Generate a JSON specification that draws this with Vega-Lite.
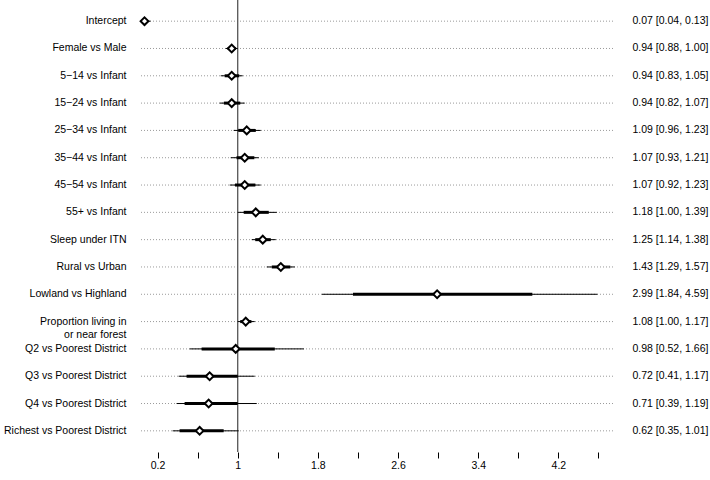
{
  "$schema": "https://vega.github.io/schema/vega-lite/v6.json",
  "autosize": {"type": "none"},
  "padding": {"left": 140, "top": 0, "right": 97, "bottom": 28},
  "width": 473,
  "height": 452,
  "config": {
    "view": {"stroke": null},
    "font": "Liberation Sans",
    "axis": {"labelFont": "Liberation Sans", "labelFontSize": 10.5, "labelColor": "#000", "grid": false, "domain": false, "title": null}
  },
  "data": {"values": [
    {"term": "Intercept", "est": 0.07, "lo": 0.04, "hi": 0.13, "lo80": 0.048, "hi80": 0.103, "ci": "0.07 [0.04, 0.13]"},
    {"term": "Female vs Male", "est": 0.94, "lo": 0.88, "hi": 1.00, "lo80": 0.90, "hi80": 0.98, "ci": "0.94 [0.88, 1.00]"},
    {"term": "5−14 vs Infant", "est": 0.94, "lo": 0.83, "hi": 1.05, "lo80": 0.87, "hi80": 1.015, "ci": "0.94 [0.83, 1.05]"},
    {"term": "15−24 vs Infant", "est": 0.94, "lo": 0.82, "hi": 1.07, "lo80": 0.862, "hi80": 1.025, "ci": "0.94 [0.82, 1.07]"},
    {"term": "25−34 vs Infant", "est": 1.09, "lo": 0.96, "hi": 1.23, "lo80": 1.005, "hi80": 1.18, "ci": "1.09 [0.96, 1.23]"},
    {"term": "35−44 vs Infant", "est": 1.07, "lo": 0.93, "hi": 1.21, "lo80": 0.988, "hi80": 1.166, "ci": "1.07 [0.93, 1.21]"},
    {"term": "45−54 vs Infant", "est": 1.07, "lo": 0.92, "hi": 1.23, "lo80": 0.973, "hi80": 1.176, "ci": "1.07 [0.92, 1.23]"},
    {"term": "55+ vs Infant", "est": 1.18, "lo": 1.00, "hi": 1.39, "lo80": 1.06, "hi80": 1.31, "ci": "1.18 [1.00, 1.39]"},
    {"term": "Sleep under ITN", "est": 1.25, "lo": 1.14, "hi": 1.38, "lo80": 1.175, "hi80": 1.33, "ci": "1.25 [1.14, 1.38]"},
    {"term": "Rural vs Urban", "est": 1.43, "lo": 1.29, "hi": 1.57, "lo80": 1.34, "hi80": 1.525, "ci": "1.43 [1.29, 1.57]"},
    {"term": "Lowland vs Highland", "est": 2.99, "lo": 1.84, "hi": 4.59, "lo80": 2.15, "hi80": 3.94, "ci": "2.99 [1.84, 4.59]"},
    {"term": "Proportion living in|or near forest", "est": 1.08, "lo": 1.00, "hi": 1.17, "lo80": 1.025, "hi80": 1.137, "ci": "1.08 [1.00, 1.17]"},
    {"term": "Q2 vs Poorest District", "est": 0.98, "lo": 0.52, "hi": 1.66, "lo80": 0.64, "hi80": 1.37, "ci": "0.98 [0.52, 1.66]"},
    {"term": "Q3 vs Poorest District", "est": 0.72, "lo": 0.41, "hi": 1.17, "lo80": 0.49, "hi80": 1.0, "ci": "0.72 [0.41, 1.17]"},
    {"term": "Q4 vs Poorest District", "est": 0.71, "lo": 0.39, "hi": 1.19, "lo80": 0.47, "hi80": 1.0, "ci": "0.71 [0.39, 1.19]"},
    {"term": "Richest vs Poorest District", "est": 0.62, "lo": 0.35, "hi": 1.01, "lo80": 0.42, "hi80": 0.86, "ci": "0.62 [0.35, 1.01]"}
  ]},
  "layer": [
    {
      "mark": {"type": "rule", "color": "#9a9a9a", "strokeDash": [1, 2], "strokeWidth": 1},
      "encoding": {
        "y": {"field": "ci", "type": "nominal", "sort": null, "scale": {"padding": 0.55, "round": false},
          "axis": {"orient": "right", "ticks": false, "labelPadding": 19}}
      }
    },
    {
      "layer": [
        {
          "data": {"values": [{}]},
          "mark": {"type": "rule", "color": "#555555", "strokeWidth": 1.3},
          "encoding": {
            "x": {"datum": 1, "type": "quantitative"}
          }
        },
        {
          "mark": {"type": "rule", "color": "#000", "strokeWidth": 1},
          "encoding": {
            "x": {
              "field": "lo", "type": "quantitative",
              "scale": {"domain": [0.025, 4.745], "nice": false, "zero": false},
              "axis": {
                "values": [0.2, 0.6, 1, 1.4, 1.8, 2.2, 2.6, 3.0, 3.4, 3.8, 4.2, 4.6],
                "tickSize": 6, "tickColor": "#000", "tickWidth": 1,
                "labelPadding": 2, "labelOverlap": false, "labelFlush": false,
                "labelExpr": "(round(datum.value*10) - 2) % 8 == 0 ? format(datum.value, '~g') : ''"
              }
            },
            "x2": {"field": "hi"},
            "y": {"field": "term", "type": "nominal", "sort": null, "scale": {"padding": 0.55, "round": false},
              "axis": {
                "orient": "left", "ticks": false, "labelPadding": 14, "labelLineHeight": 13,
                "labelExpr": "split(datum.label, '|')",
                "encode": {"labels": {"update": {"dy": {"signal": "indexof(datum.value, '|') >= 0 ? -9.5 : 0"}}}}
              }
            }
          }
        },
        {
          "mark": {"type": "rule", "color": "#000", "strokeWidth": 3},
          "encoding": {
            "x": {"field": "lo80", "type": "quantitative"},
            "x2": {"field": "hi80"},
            "y": {"field": "term", "type": "nominal", "sort": null}
          }
        },
        {
          "mark": {"type": "point", "shape": "diamond", "filled": true, "fill": "#fff", "stroke": "#000", "strokeWidth": 2, "size": 60, "opacity": 1},
          "encoding": {
            "x": {"field": "est", "type": "quantitative"},
            "y": {"field": "term", "type": "nominal", "sort": null}
          }
        }
      ]
    }
  ],
  "resolve": {"scale": {"y": "independent"}, "axis": {"y": "independent"}}
}
